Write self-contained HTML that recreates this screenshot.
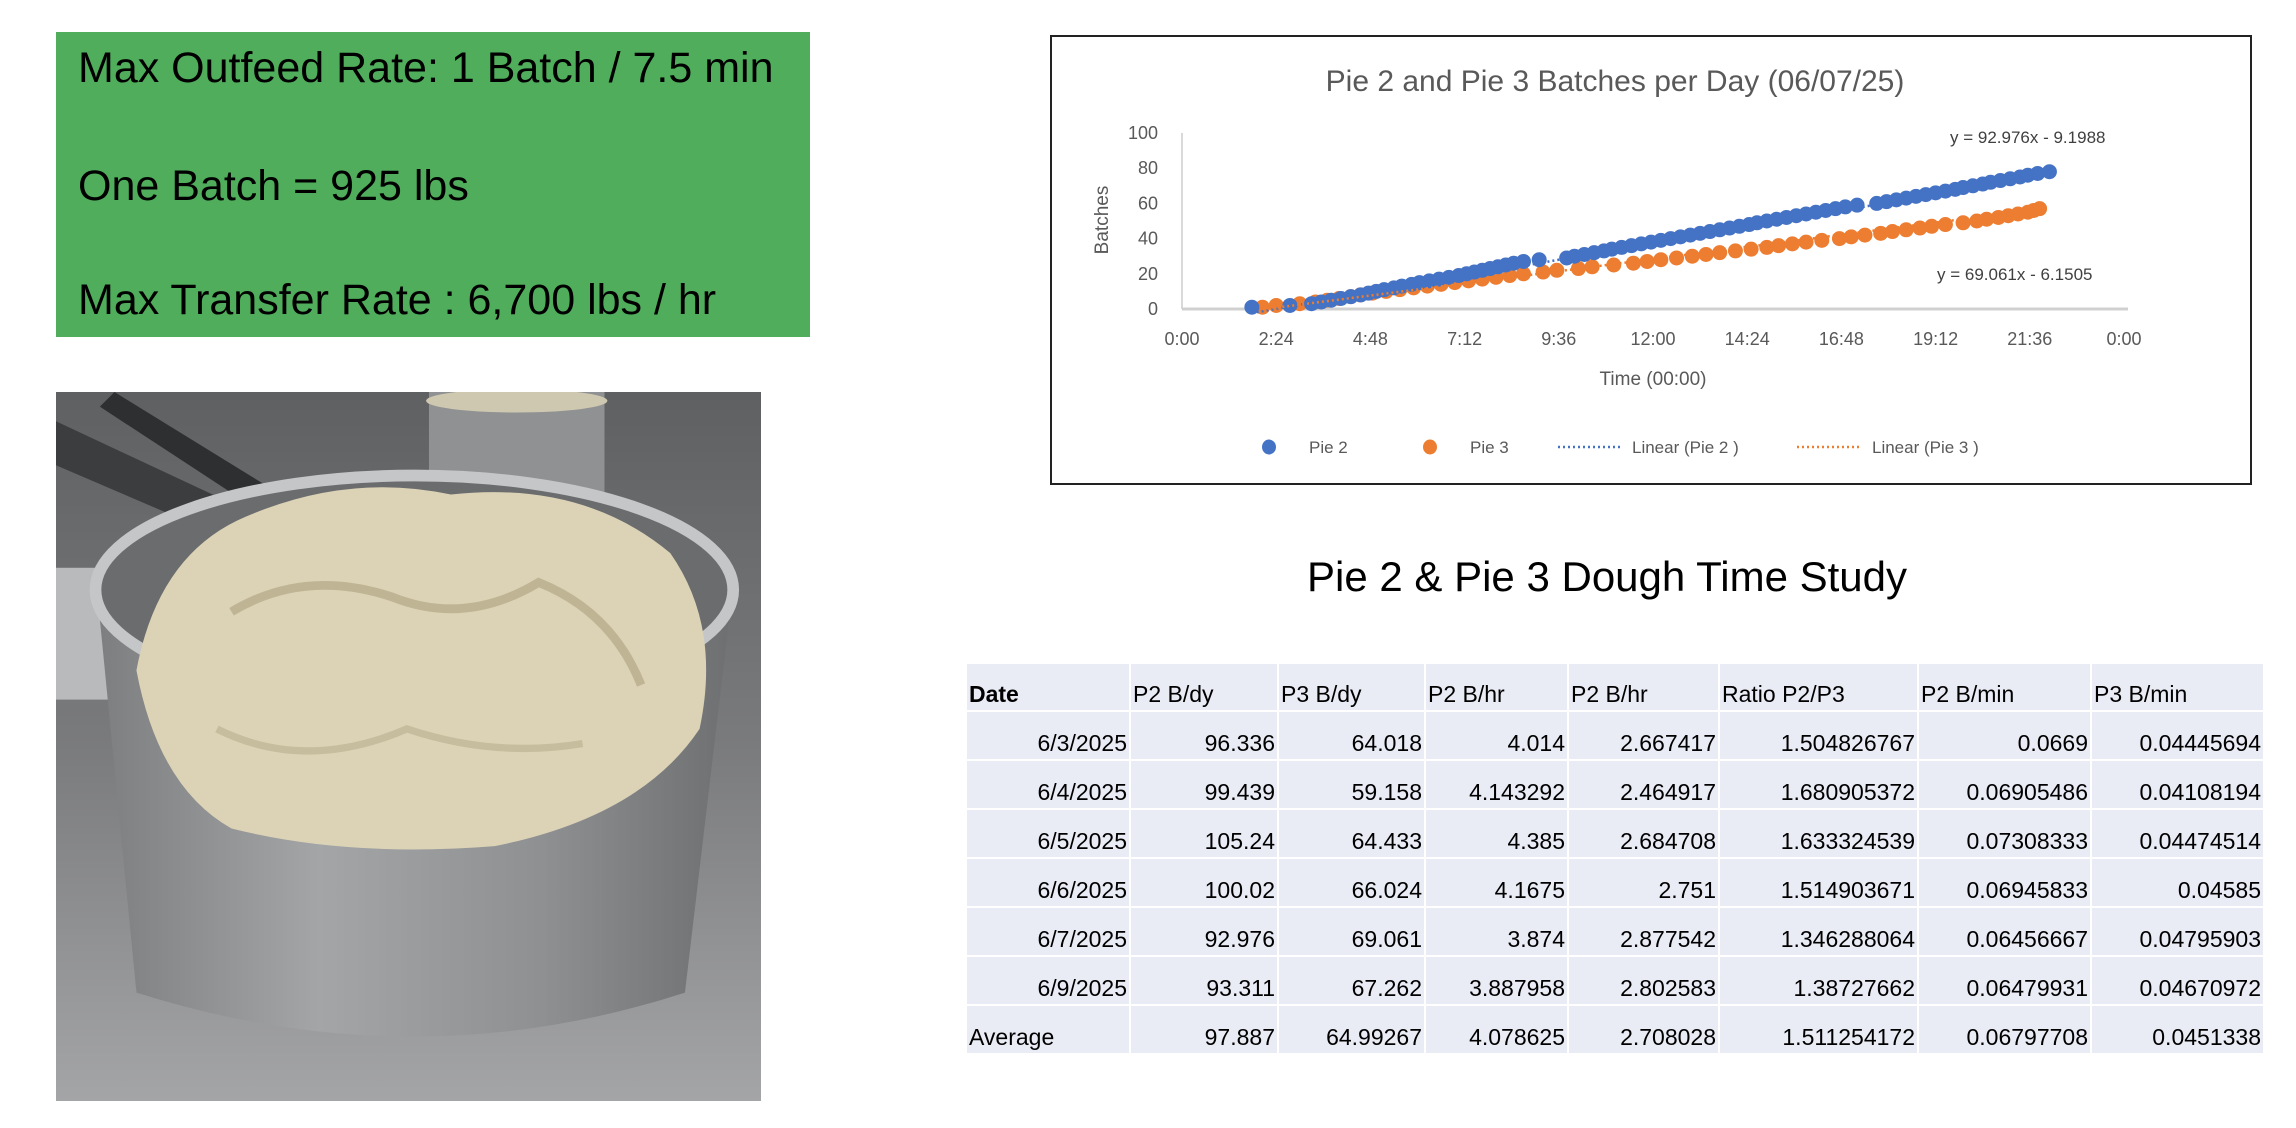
<!DOCTYPE html>
<html><head><meta charset="utf-8">
<style>
html,body{margin:0;padding:0;background:#fff;}
body{width:2296px;height:1128px;position:relative;overflow:hidden;font-family:"Liberation Sans",sans-serif;}
#green{position:absolute;left:56px;top:32px;width:754px;height:305px;background:#4fad5b;}
#green div{position:absolute;left:22px;font-size:43px;color:#000;white-space:nowrap;}
#photo{position:absolute;left:56px;top:392px;width:705px;height:709px;}
#chart{position:absolute;left:1050px;top:35px;width:1198px;height:446px;border:2px solid #222;}
#heading{position:absolute;left:1257px;top:553px;width:700px;text-align:center;font-size:42px;color:#000;}
table{position:absolute;left:965px;top:662px;border-collapse:collapse;font-size:23px;}
td{background:#e9ebf5;border:2px solid #fff;padding:0 2px;height:45px;text-align:right;vertical-align:bottom;padding-bottom:2px;white-space:nowrap;}
tr.h td{text-align:left;height:44px;}
td.l{text-align:left;}
</style></head><body>
<div id="green">
  <div style="top:12px">Max Outfeed Rate: 1 Batch / 7.5 min</div>
  <div style="top:130px">One Batch = 925 lbs</div>
  <div style="top:244px">Max Transfer Rate : 6,700 lbs / hr</div>
</div>

<svg id="photo" viewBox="0 0 482 484" preserveAspectRatio="none">
  <defs>
    <linearGradient id="bowl" x1="0" x2="1" y1="0" y2="0">
      <stop offset="0" stop-color="#7c7e80"/><stop offset="0.35" stop-color="#a3a5a7"/><stop offset="0.7" stop-color="#8e9092"/><stop offset="1" stop-color="#6d6f71"/>
    </linearGradient>
    <linearGradient id="bg" x1="0" x2="0" y1="0" y2="1">
      <stop offset="0" stop-color="#5e6062"/><stop offset="0.5" stop-color="#7a7b7d"/><stop offset="1" stop-color="#a4a5a7"/>
    </linearGradient>
  </defs>
  <rect width="482" height="484" fill="url(#bg)"/>
  <rect x="255" y="0" width="120" height="110" fill="#8f9193"/>
  <ellipse cx="315" cy="6" rx="62" ry="8" fill="#cfc8b0"/>
  <polygon points="0,20 150,90 140,110 0,50" fill="#3c3d3f"/>
  <polygon points="40,0 170,80 160,95 30,10" fill="#2e2f31"/>
  <rect x="0" y="120" width="40" height="90" fill="#b8babc"/>
  <path d="M28,135 L55,410 Q245,470 430,410 L462,140 Z" fill="url(#bowl)"/>
  <ellipse cx="245" cy="135" rx="218" ry="78" fill="#6a6c6e" stroke="#c4c6c8" stroke-width="8"/>
  <path d="M55,190 Q70,110 130,85 Q200,55 270,70 Q360,60 420,110 Q455,160 440,230 Q400,290 300,310 Q200,318 120,298 Q70,270 55,190 Z" fill="#dcd3b6"/>
  <path d="M120,150 Q170,120 230,140 Q280,160 330,130 Q380,150 400,200" fill="none" stroke="#bfb594" stroke-width="6"/>
  <path d="M110,230 Q170,260 240,230 Q300,250 360,240" fill="none" stroke="#c6bd9e" stroke-width="5"/>
</svg>

<div id="chart">
<svg id="csvg" width="1198" height="446"></svg>
</div>

<div id="heading">Pie 2 &amp; Pie 3 Dough Time Study</div>

<table>
<colgroup><col style="width:164px"><col style="width:148px"><col style="width:147px"><col style="width:143px"><col style="width:151px"><col style="width:199px"><col style="width:173px"><col style="width:173px"></colgroup>
<tr class="h"><td style="font-weight:bold">Date</td><td>P2 B/dy</td><td>P3 B/dy</td><td>P2 B/hr</td><td>P2 B/hr</td><td>Ratio P2/P3</td><td>P2 B/min</td><td>P3 B/min</td></tr>
<tr><td>6/3/2025</td><td>96.336</td><td>64.018</td><td>4.014</td><td>2.667417</td><td>1.504826767</td><td>0.0669</td><td>0.04445694</td></tr>
<tr><td>6/4/2025</td><td>99.439</td><td>59.158</td><td>4.143292</td><td>2.464917</td><td>1.680905372</td><td>0.06905486</td><td>0.04108194</td></tr>
<tr><td>6/5/2025</td><td>105.24</td><td>64.433</td><td>4.385</td><td>2.684708</td><td>1.633324539</td><td>0.07308333</td><td>0.04474514</td></tr>
<tr><td>6/6/2025</td><td>100.02</td><td>66.024</td><td>4.1675</td><td>2.751</td><td>1.514903671</td><td>0.06945833</td><td>0.04585</td></tr>
<tr><td>6/7/2025</td><td>92.976</td><td>69.061</td><td>3.874</td><td>2.877542</td><td>1.346288064</td><td>0.06456667</td><td>0.04795903</td></tr>
<tr><td>6/9/2025</td><td>93.311</td><td>67.262</td><td>3.887958</td><td>2.802583</td><td>1.38727662</td><td>0.06479931</td><td>0.04670972</td></tr>
<tr><td class="l">Average</td><td>97.887</td><td>64.99267</td><td>4.078625</td><td>2.708028</td><td>1.511254172</td><td>0.06797708</td><td>0.0451338</td></tr>
</table>

<script>
// chart data (time in hours, value = cumulative batches)
var pie2Times = [1.78,2.75,3.30,3.55,3.80,4.05,4.30,4.55,4.75,4.95,5.15,5.40,5.60,5.85,6.05,6.30,6.55,6.80,7.05,7.25,7.45,7.65,7.85,8.05,8.25,8.45,8.70,9.10,
9.80,10.00,10.25,10.50,10.75,10.95,11.20,11.45,11.70,11.95,12.20,12.45,12.70,12.95,13.20,13.45,13.70,13.95,14.20,14.45,14.65,14.90,15.15,15.40,15.65,15.90,16.15,16.40,16.65,16.90,17.20,
17.70,17.95,18.20,18.45,18.70,18.95,19.20,19.45,19.70,19.90,20.15,20.40,20.60,20.85,21.10,21.35,21.55,21.80,22.10];
var pie2Values = [1,2,3,4,5,6,7,8,9,10,11,12,13,14,15,16,17,18,19,20,21,22,23,24,25,26,27,28,29,30,31,32,33,34,35,36,37,38,39,40,41,42,43,44,45,46,47,48,49,50,51,52,53,54,55,56,57,58,59,60,61,62,63,64,65,66,67,68,69,70,71,72,73,74,75,76,77,78];
var pie3Times = [2.05,2.4,3.0,3.4,3.7,4.0,4.3,4.55,4.85,5.2,5.55,5.9,6.25,6.6,6.95,7.3,7.65,8.0,8.35,8.7,9.2,9.55,10.1,10.45,11.0,11.5,11.85,12.2,12.6,13.0,13.35,13.7,14.1,14.5,14.9,15.2,15.55,15.9,16.3,16.75,17.05,17.4,17.8,18.1,18.45,18.8,19.1,19.45,19.9,20.25,20.5,20.8,21.05,21.3,21.55,21.7,21.85];
var pie3Values = [1,2,3,4,5,6,7,8,9,10,11,12,13,14,15,16,17,18,19,20,21,22,23,24,25,26,27,28,29,30,31,32,33,34,35,36,37,38,39,40,41,42,43,44,45,46,47,48,49,50,51,52,53,54,55,56,57];
var trendSlopes = [92.976, 69.061];
var trendIntercepts = [-9.1988, -6.1505];
var yTicks = [0,20,40,60,80,100];
var xTickLabels = ["0:00","2:24","4:48","7:12","9:36","12:00","14:24","16:48","19:12","21:36","0:00"];

var svg = document.getElementById('csvg');
var NS = 'http://www.w3.org/2000/svg';
var X0 = 130, X1 = 1072, Y0 = 272, YTOP = 96;
function xs(h){ return X0 + h/24*(X1-X0); }
function ys(v){ return Y0 - v/100*(Y0-YTOP); }
function mk(tag, attrs){ var e=document.createElementNS(NS,tag); for(var k in attrs) e.setAttribute(k,attrs[k]); svg.appendChild(e); return e; }
function txt(s, attrs){ var e=mk('text',attrs); e.textContent=s; return e; }

var t = txt('Pie 2 and Pie 3 Batches per Day (06/07/25)', {x:563,y:54,'text-anchor':'middle','font-size':30,fill:'#595959','font-family':'Liberation Sans, sans-serif'});



var ya = mk('line',{x1:X0,y1:YTOP,x2:X0,y2:Y0,stroke:'#d9d9d9','stroke-width':2});


var xa = mk('line',{x1:X0,y1:Y0,x2:X1+4,y2:Y0,stroke:'#d0d0d0','stroke-width':3});



yTicks.forEach(function(v){
  var e = txt(String(v), {x:106,y:ys(v)+6,'text-anchor':'end','font-size':18,fill:'#595959'});
  
  
});
xTickLabels.forEach(function(s,i){
  var e = txt(s, {x:xs(i*2.4),y:308,'text-anchor':'middle','font-size':18,fill:'#595959'});
  
  
});
var xt = txt('Time (00:00)', {x:601,y:348,'text-anchor':'middle','font-size':19,fill:'#595959'});


var yt = txt('Batches', {x:0,y:0,'text-anchor':'middle','font-size':19,fill:'#595959',transform:'translate(56,183) rotate(-90)'});



var colors = ['#4472c4','#ed7d31'];
function drawSeries(times, vals, col, name){
  for (var i=0;i<times.length;i++){
    var c = mk('ellipse',{cx:xs(times[i]),cy:ys(vals[i]),rx:7.5,ry:7.5,fill:col});
    
    
  }
}
drawSeries(pie3Times, pie3Values, colors[1], 'pie3-point');
drawSeries(pie2Times, pie2Values, colors[0], 'pie2-point');

var tt = [[pie2Times[0], pie2Times[pie2Times.length-1]],[pie3Times[0], pie3Times[pie3Times.length-1]]];
for (var k=0;k<2;k++){
  var a=tt[k][0], b=tt[k][1];
  var l = mk('line',{x1:xs(a),y1:ys(trendSlopes[k]*a/24+trendIntercepts[k]),x2:xs(b),y2:ys(trendSlopes[k]*b/24+trendIntercepts[k]),stroke:colors[k],'stroke-width':2.5,'stroke-dasharray':'2 3'});
  
  
}
var e1 = txt('y = 92.976x - 9.1988', {x:898,y:106,'font-size':17,fill:'#404040'});


var e2 = txt('y = 69.061x - 6.1505', {x:885,y:243,'font-size':17,fill:'#404040'});



// legend
var lg1 = mk('ellipse',{cx:217,cy:410,rx:7,ry:7.5,fill:colors[0]});


var lt1 = txt('Pie 2', {x:257,y:416,'font-size':17,fill:'#595959'});


var lg2 = mk('ellipse',{cx:378,cy:410,rx:7,ry:7.5,fill:colors[1]});


var lt2 = txt('Pie 3', {x:418,y:416,'font-size':17,fill:'#595959'});


var ll1 = mk('line',{x1:506,y1:410,x2:571,y2:410,stroke:colors[0],'stroke-width':2.5,'stroke-dasharray':'2 3'});


var lt3 = txt('Linear (Pie 2 )', {x:580,y:416,'font-size':17,fill:'#595959'});


var ll2 = mk('line',{x1:745,y1:410,x2:810,y2:410,stroke:colors[1],'stroke-width':2.5,'stroke-dasharray':'2 3'});


var lt4 = txt('Linear (Pie 3 )', {x:820,y:416,'font-size':17,fill:'#595959'});


</script>
</body></html>
